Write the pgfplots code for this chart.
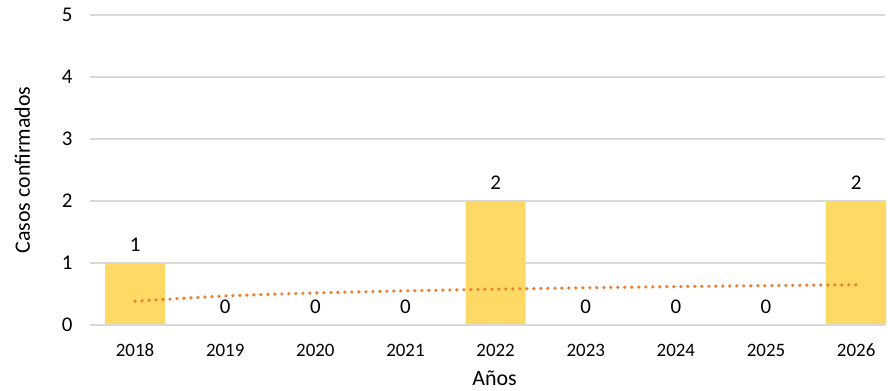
\documentclass[border=0pt]{standalone}
\usepackage{fontspec}
\setmainfont{Carlito}
\usepackage{pgfplots}
\pgfplotsset{compat=1.18}
\definecolor{barc}{HTML}{FFD966}
\definecolor{trend}{HTML}{ED7D31}
\definecolor{gridc}{HTML}{D9D9D9}
\begin{document}
\begin{tikzpicture}
\useasboundingbox (0,0) rectangle (888bp,391bp);
\begin{axis}[
  at={(90bp,66bp)}, anchor=south west,
  scale only axis, width=795bp, height=310bp,
  xmin=0.5, xmax=9.32, ymin=0, ymax=5,
  /pgf/number format/assume math mode=true,
  axis line style={draw=none},
  axis x line*=bottom, axis y line*=left,
  xtick={1,...,9},
  xticklabels={2018,2019,2020,2021,2022,2023,2024,2025,2026},
  ytick={0,1,2,3,4,5},
  tick style={draw=none},
  ymajorgrids, grid style={gridc, line width=1.3bp},
  xticklabel style={font=\fontsize{19}{22}\selectfont, anchor=center, yshift=-25bp},
  yticklabel style={font=\fontsize{21}{25}\selectfont, xshift=-14bp},
  xlabel={Años}, ylabel={Casos confirmados},
  xlabel style={font=\fontsize{22}{26}\selectfont, at={(axis description cs:0.509,-0.172)}, anchor=center},
  ylabel style={font=\fontsize{22}{26}\selectfont, at={(axis description cs:-0.085,0.5)}, anchor=center},
  clip=false,
]
\addplot[ybar, bar width=60bp, fill=barc, draw=none,
  nodes near coords, every node near coord/.append style={font=\fontsize{21}{25}\selectfont, text=black, yshift=8bp}]
  coordinates {(1,1) (2,0) (3,0) (4,0) (5,2) (6,0) (7,0) (8,0) (9,2)};
\addplot[trend, line width=3.6bp, line cap=round, dash pattern=on 0pt off 7bp, smooth]
  coordinates {(1,0.384) (2,0.468) (3,0.517) (4,0.551) (5,0.578) (6,0.600) (7,0.619) (8,0.635) (9,0.649)};
\draw[gridc, line width=1.3bp] (axis cs:0.5,0) -- (axis cs:9.32,0);
\end{axis}
\end{tikzpicture}
\end{document}
